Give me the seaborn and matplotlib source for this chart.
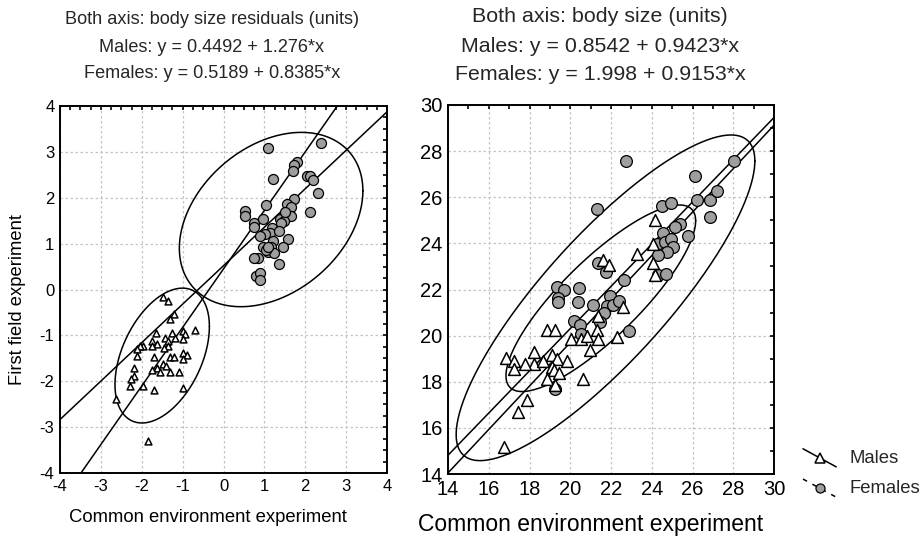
import numpy as np
import pandas as pd
import matplotlib
matplotlib.use("Agg")
import matplotlib.pyplot as plt
import seaborn as sns
from matplotlib.lines import Line2D
from matplotlib.legend_handler import HandlerLine2D
from matplotlib.ticker import MultipleLocator

# ---------------- data ----------------
# Left panel: body size residuals
res_male_x = [-1.49, -1.35, -1.22, -1.31, -0.69, -1.65, -1.27, -0.98, -0.94, -0.99,
              -1.43, -1.37, -1.18, -1.76, -1.62, -1.76, -1.35, -1.96, -2.04, -2.12,
              -1.45, -2.11, -1.70, -1.31, -1.21, -0.99, -0.90, -0.98, -1.47, -1.41,
              -1.63, -1.76, -1.55, -1.31, -1.08, -2.18, -2.20, -2.27, -2.29, -1.98,
              -1.69, -0.99, -2.64, -1.84]
res_male_y = [-0.16, -0.24, -0.54, -0.65, -0.88, -0.94, -0.95, -0.90, -0.98, -1.08,
              -1.06, -1.13, -1.06, -1.13, -1.19, -1.23, -1.23, -1.24, -1.24, -1.30,
              -1.28, -1.46, -1.48, -1.48, -1.48, -1.39, -1.43, -1.52, -1.62, -1.67,
              -1.72, -1.75, -1.79, -1.79, -1.79, -1.72, -1.88, -1.95, -2.11, -2.11,
              -2.19, -2.15, -2.39, -3.30]
res_female_x = [1.09, 2.38, 1.81, 1.73, 1.70, 1.20, 2.04, 2.12, 2.19, 2.30,
                1.73, 2.12, 1.05, 0.53, 0.53, 1.55, 1.65, 1.66, 0.75, 0.75,
                0.97, 1.38, 1.47, 1.51, 1.40, 1.18, 1.14, 1.02, 0.90, 1.35,
                1.58, 1.21, 0.97, 1.16, 1.46, 1.08, 1.24, 0.84, 0.75, 1.36,
                0.80, 0.90, 0.90, 1.03, 1.10]
res_female_y = [3.08, 3.19, 2.77, 2.71, 2.58, 2.41, 2.47, 2.47, 2.38, 2.10,
                1.97, 1.70, 1.84, 1.71, 1.60, 1.87, 1.80, 1.60, 1.44, 1.37,
                1.54, 1.54, 1.50, 1.70, 1.44, 1.33, 1.24, 1.22, 1.17, 1.27,
                1.10, 1.06, 0.93, 0.92, 0.93, 0.82, 0.79, 0.69, 0.69, 0.56,
                0.29, 0.35, 0.21, 0.87, 0.93]

# Right panel: body size
size_male_x = [24.16, 23.26, 24.04, 24.04, 24.17, 21.59, 21.92, 22.60, 21.30, 21.38,
               21.38, 22.28, 20.97, 20.04, 20.53, 20.81, 20.61, 18.85, 19.27, 18.20,
               18.23, 17.80, 16.86, 17.22, 17.22, 18.64, 19.10, 19.34, 19.86, 19.11,
               19.18, 19.47, 18.85, 19.26, 17.87, 17.43, 16.76]
size_male_y = [25.02, 23.54, 23.98, 23.14, 22.64, 23.29, 23.07, 21.26, 20.25, 19.85,
               20.83, 19.96, 19.39, 19.85, 19.85, 19.99, 18.12, 20.25, 20.25, 19.31,
               18.78, 18.78, 19.05, 18.92, 18.55, 18.92, 19.17, 18.98, 18.92, 18.66,
               18.52, 18.40, 18.12, 17.87, 17.19, 16.71, 15.17]
size_female_x = [22.73, 28.02, 26.13, 26.23, 26.88, 26.88, 27.21, 21.30, 24.48, 24.93,
                 25.38, 25.15, 25.77, 24.56, 24.24, 24.64, 24.93, 25.06, 24.76, 24.32,
                 24.33, 24.69, 21.35, 21.76, 19.34, 19.70, 20.45, 19.42, 19.42, 20.38,
                 22.65, 21.13, 21.95, 21.78, 22.11, 22.40, 21.66, 21.46, 20.16, 20.46,
                 20.54, 22.87, 19.24]
size_female_y = [27.57, 27.57, 26.90, 25.88, 25.88, 25.16, 26.25, 25.49, 25.64, 25.77,
                 24.82, 24.69, 24.30, 24.47, 23.98, 24.08, 24.18, 23.86, 23.62, 23.50,
                 22.61, 22.68, 23.14, 22.75, 22.10, 21.96, 22.07, 21.62, 21.44, 21.44,
                 22.42, 21.34, 21.70, 21.29, 21.34, 21.52, 21.00, 20.61, 20.63, 20.45,
                 20.06, 20.22, 17.68]

# regression coefficients (intercept, slope) from the titles
res_male_fit = (0.4492, 1.276)
res_female_fit = (0.5189, 0.8385)
size_male_fit = (0.8542, 0.9423)
size_female_fit = (1.998, 0.9153)

# ellipses: (centre x, centre y, half-width x, half-height y, correlation)
res_male_ellipse = (-1.50, -1.44, 1.155, 1.47, 0.43)
res_female_ellipse = (1.165, 1.525, 2.245, 1.90, 0.33)
size_inner_ellipse = (21.50, 21.62, 4.655, 4.045, 0.83)
size_outer_ellipse = (21.73, 21.64, 7.33, 7.06, 0.84)

groups = ["Males", "Females"]

# ---------------- style ----------------
sns.set_theme(style="white")
plt.rcParams["font.family"] = ["Liberation Sans", "DejaVu Sans"]
plt.rcParams["axes.unicode_minus"] = False
plt.rcParams["axes.edgecolor"] = "black"
plt.rcParams["axes.linewidth"] = 1.4

FILL_GRAY = "#9e9e9e"

fig = plt.figure(figsize=(9.22, 5.37), dpi=100)
axL = fig.add_axes([60 / 922, 1 - 473 / 537, 327 / 922, 367 / 537])
axR = fig.add_axes([448 / 922, 1 - 474 / 537, 326 / 922, 369 / 537])


def draw_ellipse(ax, params):
    cx, cy, hx, hy, r = params
    S = np.array([[hx * hx, r * hx * hy], [r * hx * hy, hy * hy]])
    L = np.linalg.cholesky(S)
    t = np.linspace(0, 2 * np.pi, 400)
    pts = L @ np.vstack([np.cos(t), np.sin(t)])
    ax.plot(cx + pts[0], cy + pts[1], color="black", lw=1.1, zorder=2)


def panel(ax, mx, my, fx, fy, mfit, ffit, ellipses, lims, major, minor, tsize, msize_t, msize_c):
    df = pd.DataFrame({
        "x": list(mx) + list(fx),
        "y": list(my) + list(fy),
        "sex": [groups[0]] * len(mx) + [groups[1]] * len(fx),
    })
    sns.scatterplot(data=df[df.sex == "Females"], x="x", y="y", ax=ax, marker="o",
                    s=msize_c, color=FILL_GRAY, edgecolor="black", linewidth=0.9,
                    zorder=4, legend=False)
    sns.scatterplot(data=df[df.sex == "Males"], x="x", y="y", ax=ax, marker="^",
                    s=msize_t, color="white", edgecolor="black", linewidth=1.1,
                    zorder=4, legend=False)
    for a, b in (mfit, ffit):
        ax.axline((0, a), slope=b, color="black", lw=1.1, zorder=3)
    for e in ellipses:
        draw_ellipse(ax, e)
    ax.set_xlim(*lims[0]); ax.set_ylim(*lims[1])
    ax.xaxis.set_major_locator(MultipleLocator(major))
    ax.yaxis.set_major_locator(MultipleLocator(major))
    ax.xaxis.set_minor_locator(MultipleLocator(minor))
    ax.yaxis.set_minor_locator(MultipleLocator(minor))
    ax.grid(True, which="major", color="#c4c4c4", linestyle=(0, (2, 2)), lw=0.9)
    ax.tick_params(which="both", direction="in", top=True, right=True,
                   length=3, width=1.2, color="black", labelsize=tsize,
                   labelcolor="black", pad=4)
    for s in ax.spines.values():
        s.set_visible(True)
        s.set_color("black")
        s.set_linewidth(1.4)


panel(axL, res_male_x, res_male_y, res_female_x, res_female_y, res_male_fit, res_female_fit,
      [res_male_ellipse, res_female_ellipse], ((-4, 4), (-4, 4)), 1, 0.25, 12, 24, 52)
panel(axR, size_male_x, size_male_y, size_female_x, size_female_y, size_male_fit, size_female_fit,
      [size_inner_ellipse, size_outer_ellipse], ((14, 30), (14, 30)), 2, 1, 14.5, 72, 72)

axL.set_xlabel("Common environment experiment", fontsize=13.3, color="black")
axL.xaxis.set_label_coords((208 - 60) / 327, -(517 - 473) / 367)
axL.xaxis.label.set_va("center")
axL.set_ylabel("First field experiment", fontsize=13.2, color="black")
axL.yaxis.set_label_coords(-(60 - 18) / 327, (473 - 300) / 367)
axL.yaxis.label.set_va("center")
axR.set_xlabel("Common environment experiment", fontsize=16.5, color="black")
axR.xaxis.set_label_coords((591 - 448) / 326, -(525 - 474) / 369)
axR.xaxis.label.set_va("center")
axR.set_ylabel("")


def fmt(label, fit):
    return f"{label}: y = {fit[0]:g} + {fit[1]:g}*x"


fig.text(212 / 922, 1 - 20 / 537, "Both axis: body size residuals (units)", ha="center", va="center", fontsize=13.1)
fig.text(212 / 922, 1 - 48 / 537, fmt("Males", res_male_fit), ha="center", va="center", fontsize=13.1)
fig.text(212 / 922, 1 - 74 / 537, fmt("Females", res_female_fit), ha="center", va="center", fontsize=13.1)
fig.text(600 / 922, 1 - 16 / 537, "Both axis: body size (units)", ha="center", va="center", fontsize=15.4)
fig.text(600 / 922, 1 - 46 / 537, fmt("Males", size_male_fit), ha="center", va="center", fontsize=15.4)
fig.text(600 / 922, 1 - 75 / 537, fmt("Females", size_female_fit), ha="center", va="center", fontsize=15.4)


class DiagHandler(HandlerLine2D):
    def create_artists(self, legend, orig_handle, xdescent, ydescent, width, height, fontsize, trans):
        arts = super().create_artists(legend, orig_handle, xdescent, ydescent, width, height, fontsize, trans)
        for a in arts:
            if isinstance(a, Line2D):
                n = len(a.get_xdata())
                a.set_ydata(np.linspace(height * 1.1, -height * 0.3, n))
        return arts


h_m = Line2D([], [], color="black", lw=1.1, marker="^", markersize=6.5,
             markerfacecolor="white", markeredgecolor="black", markeredgewidth=1.1)
h_f = Line2D([], [], color="black", lw=1.1, linestyle=(0, (3, 4)), marker="o", markersize=6.5,
             markerfacecolor=FILL_GRAY, markeredgecolor="black", markeredgewidth=0.9)
fig.legend([h_m, h_f], groups, loc="upper left", bbox_to_anchor=(803 / 922, 1 - 450 / 537),
           frameon=False, fontsize=13.3, handlelength=1.8, handletextpad=0.7, labelspacing=0.72,
           borderpad=0, borderaxespad=0, numpoints=1,
           handler_map={Line2D: DiagHandler(numpoints=1)})

fig.savefig("out.png", dpi=100)
